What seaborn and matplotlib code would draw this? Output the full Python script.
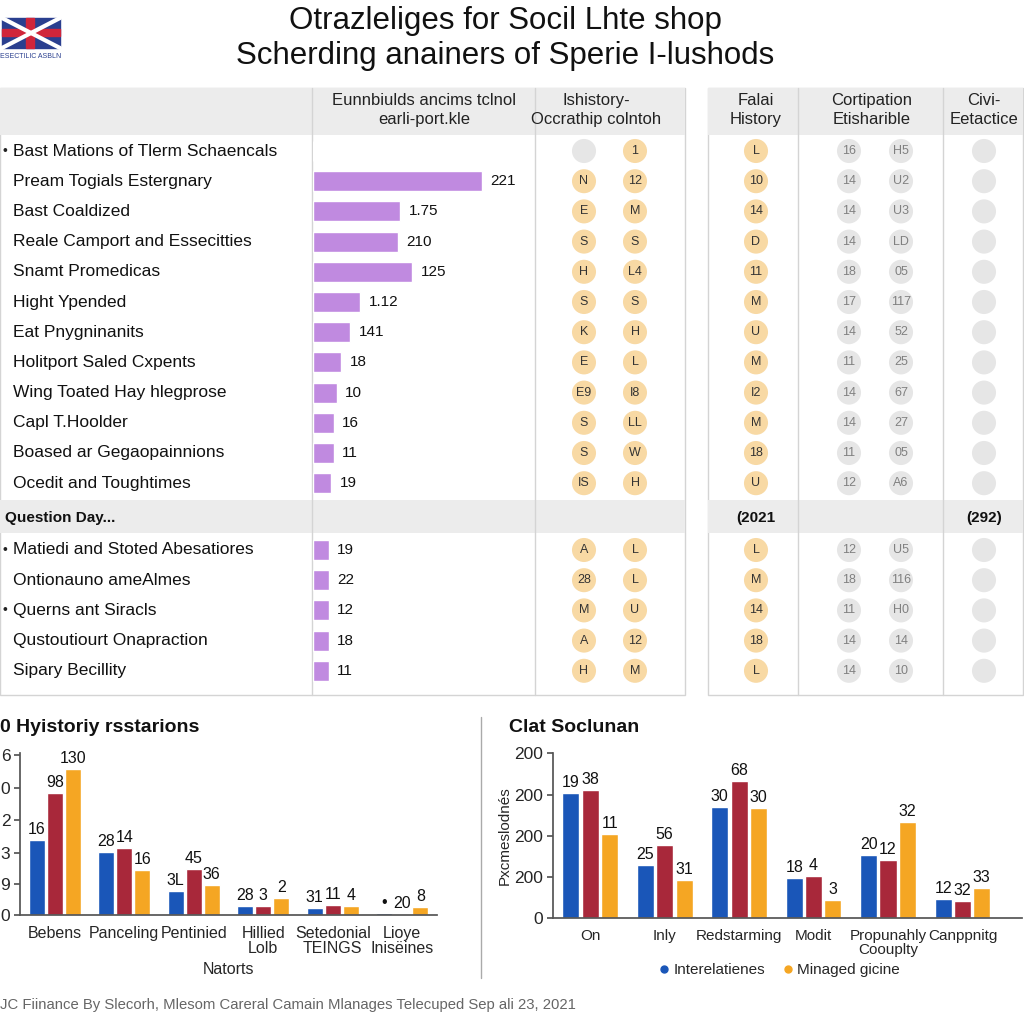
import numpy as np
import pandas as pd
import matplotlib
matplotlib.use("Agg")
import matplotlib.pyplot as plt
import seaborn as sns
from matplotlib.patches import Rectangle
from matplotlib.lines import Line2D

# -------------------------------
# Data
# -------------------------------
title_lines = ["Otrazleliges for Socil Lhte shop", "Scherding anainers of Sperie I-lushods"]

rows_a = ["Bast Mations of Tlerm Schaencals", "Pream Togials Estergnary", "Bast Coaldized",
          "Reale Camport and Essecitties", "Snamt Promedicas", "Hight Ypended",
          "Eat Pnygninanits", "Holitport Saled Cxpents", "Wing Toated Hay hlegprose",
          "Capl T.Hoolder", "Boased ar Gegaopainnions", "Ocedit and Toughtimes"]
rows_b = ["Matiedi and Stoted Abesatiores", "Ontionauno ameAlmes", "Querns ant Siracls",
          "Qustoutiourt Onapraction", "Sipary Becillity"]
bullets_a = [True] + [False] * 11
bullets_b = [True, False, True, False, False]

# bar lengths read off the picture, and the printed labels (which do not match them)
bar_a = [0, 221, 114, 111, 130, 62, 49, 37, 31, 27, 27, 24]
bar_b = [21, 21, 21, 21, 21]
bar_text_a = ["", "221", "1.75", "210", "125", "1.12", "141", "18", "10", "16", "11", "19"]
bar_text_b = ["19", "22", "12", "18", "11"]

col_a = ["", "N", "E", "S", "H", "S", "K", "E", "E9", "S", "S", "IS", "A", "28", "M", "A", "H"]
col_b = ["1", "12", "M", "S", "L4", "S", "H", "L", "I8", "LL", "W", "H", "L", "L", "U", "12", "M"]
col_c = ["L", "10", "14", "D", "11", "M", "U", "M", "I2", "M", "18", "U", "L", "M", "14", "18", "L"]
col_d = ["16", "14", "14", "14", "18", "17", "14", "11", "14", "14", "11", "12", "12", "18", "11", "14", "14"]
col_e = ["H5", "U2", "U3", "LD", "05", "117", "52", "25", "67", "27", "05", "A6", "U5", "116", "H0", "14", "10"]

headers = [("Eunnbiulds ancims tclnol\nearli-port.kle", 424), ("Ishistory-\nOccrathip colntoh", 596),
           ("Falai\nHistory", 756), ("Cortipation\nEtisharible", 872), ("Civi-\nEetactice", 984)]

left_cats = ["Bebens", "Panceling", "Pentinied", "Hillied\nLolb", "Setedonial\nTEINGS", "Lioye\nInisëines"]
left_blue = [75, 63, 24, 9, 7, 2]
left_red = [122, 67, 46, 9, 10, 1]
left_orange = [146, 45, 30, 17, 9, 8]
left_labels = [["16", "28", "3L", "28", "31", "•"],
               ["98", "14", "45", "3", "11", "20"],
               ["130", "16", "36", "2", "4", "8"]]
left_yticks = ["0", "9", "3", "2", "0", "6"]

right_cats = ["On", "Inly", "Redstarming", "Modit", "Propunahly\nCoouplty", "Canppnitg"]
right_blue = [125, 53, 111, 40, 63, 19]
right_red = [128, 73, 137, 42, 58, 17]
right_orange = [84, 38, 110, 18, 96, 30]
right_labels = [["19", "25", "30", "18", "20", "12"],
                 ["38", "56", "68", "4", "12", "32"],
                 ["11", "31", "30", "3", "32", "33"]]
right_yticks = ["0", "200", "200", "200", "200"]

series = ["Interelatienes", "Hansed", "Minaged gicine"]
blue, red, orange = "#1a56b8", "#a8283a", "#f5a623"
purple = "#c08ae0"
peach = "#f8d9a4"
grey_dot = "#e6e6e6"

# -------------------------------
# Figure
# -------------------------------
sns.set_theme(style="white")
plt.rcParams['font.family'] = ['Liberation Sans', 'DejaVu Sans']

fig = plt.figure(figsize=(10.24, 10.24), dpi=100)
bg = fig.add_axes([0, 0, 1, 1])
bg.set_xlim(0, 1024)
bg.set_ylim(1024, 0)
bg.axis('off')

# logo
bg.add_patch(Rectangle((2, 18), 58, 30, color="#2a3f8f"))
bg.plot([2, 60], [18, 48], color="white", lw=3)
bg.plot([2, 60], [48, 18], color="white", lw=3)
bg.add_patch(Rectangle((26, 18), 8, 30, color="#d0253a"))
bg.add_patch(Rectangle((2, 29), 58, 7, color="#d0253a"))
bg.text(31, 56, "ESECTILIC ASBLN", fontsize=5, ha='center', va='center', color="#2a3f8f")

for i, line in enumerate(title_lines):
    bg.text(505, 21 + 35 * i, line, fontsize=22.5, ha='center', va='center', color="#111")

# table frames
line_col = "#d4d4d4"
head_col = "#ececec"
for x0, x1 in [(0, 685), (708, 1023)]:
    bg.add_patch(Rectangle((x0, 88), x1 - x0, 607, facecolor="white", edgecolor=line_col, lw=1))
    bg.add_patch(Rectangle((x0, 88), x1 - x0, 47, facecolor=head_col, edgecolor="none"))
    bg.add_patch(Rectangle((x0, 500), x1 - x0, 33, facecolor=head_col, edgecolor="none"))
for x in [312, 535, 798, 943]:
    bg.plot([x, x], [88, 695], color=line_col, lw=1)

for text, x in headers:
    bg.text(x, 110, text, fontsize=12, ha='center', va='center', color="#222", linespacing=1.3)

row_y_a = [151 + 30.2 * i for i in range(len(rows_a))]
row_y_b = [550 + 30.2 * i for i in range(len(rows_b))]
row_y = row_y_a + row_y_b

for y, name, b in zip(row_y, rows_a + rows_b, bullets_a + bullets_b):
    if b:
        bg.text(5, y, "•", fontsize=10, ha='center', va='center', color="#222")
    bg.text(13, y, name, fontsize=12.5, ha='left', va='center', color="#111")

bg.text(5, 518, "Question Day...", fontsize=11, fontweight='bold', ha='left', va='center', color="#111")
bg.text(756, 518, "(2021", fontsize=11, fontweight='bold', ha='center', va='center', color="#111")
bg.text(984, 518, "(292)", fontsize=11, fontweight='bold', ha='center', va='center', color="#111")

# circle columns
dot_cols = [(584, col_a, peach, "#333"), (635, col_b, peach, "#333"), (756, col_c, peach, "#333"),
            (849, col_d, grey_dot, "#808080"), (901, col_e, grey_dot, "#808080"),
            (984, [""] * len(row_y), grey_dot, "#808080")]
for x, labels, fc, tc in dot_cols:
    colors = [fc if lab else grey_dot for lab in labels]
    bg.scatter([x] * len(row_y), row_y, s=300, c=colors, edgecolors='none', zorder=3)
    for y, lab in zip(row_y, labels):
        bg.text(x, y, lab, fontsize=9, ha='center', va='center', color=tc, zorder=4)

# purple bars in table
axt = fig.add_axes([313 / 1024, (1024 - 695) / 1024, 220 / 1024, 607 / 1024])
sns.barplot(x=bar_a + bar_b, y=row_y, orient='h', native_scale=True, color=purple,
            width=0.66, ax=axt, saturation=1)
axt.set_xlim(0, 288)
axt.set_ylim(695, 88)
axt.axis('off')
axt.patch.set_alpha(0)
axt.bar_label(axt.containers[0], labels=bar_text_a + bar_text_b, padding=6, fontsize=11, color="#111")


# -------------------------------
# Grouped bar charts
# -------------------------------
def grouped(ax, cats, vals, labels, ymax, yticks, yticklabels, xmax, xsize):
    df = pd.DataFrame({
        'cat': cats * 3,
        'val': vals[0] + vals[1] + vals[2],
        'series': [series[0]] * 6 + [series[1]] * 6 + [series[2]] * 6,
    })
    sns.barplot(data=df, x='cat', y='val', hue='series', palette=[blue, red, orange],
                width=0.78, gap=0.12, saturation=1, ax=ax, legend=False)
    for cont, labs in zip(ax.containers, labels):
        ax.bar_label(cont, labels=labs, padding=2, fontsize=11.5, color="#111")
    ax.set_ylim(0, ymax)
    ax.set_xlim(-0.5, xmax)
    ax.set_yticks(yticks)
    ax.set_yticklabels(yticklabels, fontsize=12.5)
    ax.set_xlabel("")
    ax.set_ylabel("")
    ax.tick_params(axis='x', length=0, labelsize=xsize, pad=8)
    for lab in ax.get_xticklabels():
        lab.set_linespacing(1.0)
    ax.set_xticks(np.arange(0.5, 6, 1), minor=True)
    ax.tick_params(axis='x', which='minor', length=5, color="#555", direction='out')
    ax.tick_params(axis='y', length=4, color="#555", left=True, pad=3)
    sns.despine(ax=ax)
    for sp in ['left', 'bottom']:
        ax.spines[sp].set_color("#555")
    ax.patch.set_alpha(0)


axl = fig.add_axes([20 / 1024, (1024 - 915) / 1024, 417 / 1024, 162 / 1024])
grouped(axl, left_cats, [left_blue, left_red, left_orange], left_labels, 162,
        [0, 31, 62, 95, 127, 160], left_yticks, 5.5, 11.5)
axl.set_xlabel("Natorts", fontsize=11.5, labelpad=4)
bg.text(0, 727, "0 Hyistoriy rsstarions", fontsize=14, fontweight='bold', ha='left', va='center', color="#111")

axr = fig.add_axes([553 / 1024, (1024 - 918) / 1024, 469 / 1024, 165 / 1024])
grouped(axr, right_cats, [right_blue, right_red, right_orange], right_labels, 165,
        [0, 41, 82, 123, 165], right_yticks, 5.8, 11)
axr.set_ylabel("Pxcmeslodnés", fontsize=11, labelpad=2)
bg.text(509, 727, "Clat Soclunan", fontsize=14, fontweight='bold', ha='left', va='center', color="#111")

bg.plot([481, 481], [717, 978], color="#aaaaaa", lw=1)

handles = [Line2D([], [], marker='o', ls='', color=blue, markersize=5),
           Line2D([], [], marker='o', ls='', color=orange, markersize=5)]
fig.legend(handles, [series[0], series[2]], loc='center', bbox_to_anchor=(778 / 1024, 1 - 970 / 1024),
           ncol=2, frameon=False, fontsize=11, handletextpad=0.1, columnspacing=1.0, handlelength=1.0)

bg.text(0, 1005, "JC Fiinance By Slecorh, Mlesom Careral Camain Mlanages Telecuped Sep ali 23, 2021",
        fontsize=10.7, ha='left', va='center', color="#666")

fig.savefig("out.png", dpi=100)
